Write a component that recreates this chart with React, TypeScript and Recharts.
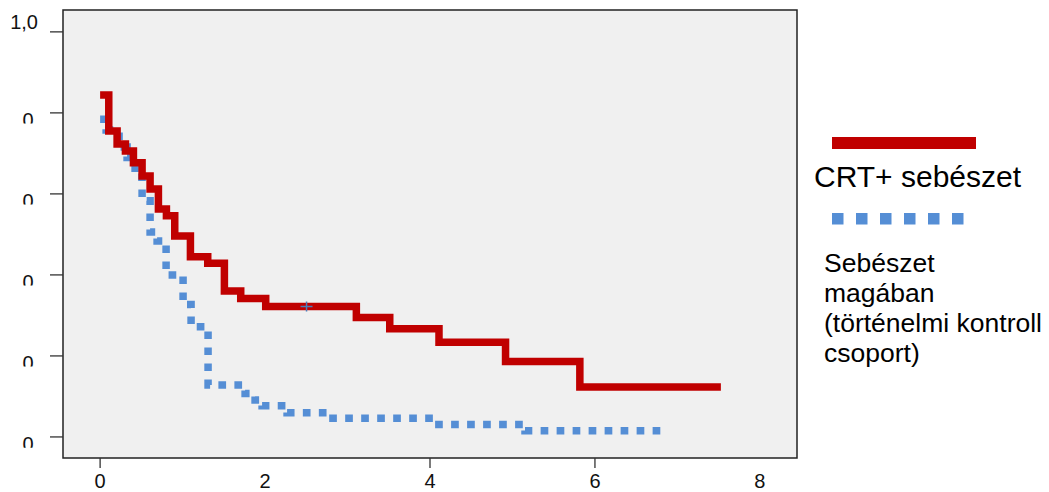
import {
  ComposedChart,
  Line,
  Scatter,
  XAxis,
  YAxis,
  ReferenceArea,
} from "recharts";

// CRT + sebészet (red, solid)
const crtTime = [0, 0.105, 0.206, 0.307, 0.404, 0.509, 0.606, 0.707, 0.804, 0.905, 1.095, 1.305, 1.507, 1.705, 2.008, 3.107, 3.512, 4.109, 4.916, 5.817, 7.527];
const crtSurv = [0.844, 0.755, 0.723, 0.706, 0.677, 0.644, 0.612, 0.563, 0.546, 0.496, 0.445, 0.429, 0.36, 0.342, 0.322, 0.295, 0.267, 0.234, 0.186, 0.123, 0.123];

// Sebészet magában (blue, dotted)
const ctrlTime = [0, 0.073, 0.23, 0.327, 0.424, 0.509, 0.606, 0.691, 0.8, 1.006, 1.103, 1.309, 1.758, 1.879, 1.964, 2.267, 2.764, 4.061, 5.152, 6.812];
const ctrlSurv = [0.784, 0.758, 0.716, 0.69, 0.641, 0.583, 0.506, 0.484, 0.4, 0.327, 0.272, 0.128, 0.107, 0.091, 0.077, 0.06, 0.046, 0.031, 0.015, 0.015];

// censored mark on the red curve
const censorTime = [2.503];
const censorSurv = [0.322];

const xTicks = [0, 2, 4, 6, 8];
const xTickMarks = [0, 4, 6];
const yTicks = [0, 0.2, 0.4, 0.6, 0.8, 1];

const seriesNames = ["CRT+ sebészet", "Sebészet magában (történelmi kontroll csoport)"];
const legendLines = ["Sebészet", "magában", "(történelmi kontroll", "csoport)"];

const RED = "#c00000";
const BLUE = "#558ed5";
const FONT = "'Liberation Sans', Arial, sans-serif";

const crtData = crtTime.map((x, i) => ({ x, y: crtSurv[i] }));
const ctrlData = ctrlTime.map((x, i) => ({ x, y: ctrlSurv[i] }));
const censorData = censorTime.map((x, i) => ({ x, y: censorSurv[i] }));

const XTick = (props: any) => {
  const { x, payload } = props;
  return (
    <g>
      {xTickMarks.includes(payload.value) && (
        <line x1={x} x2={x} y1={458} y2={468} stroke="#333" strokeWidth={1.3} />
      )}
      <text x={x} y={488} textAnchor="middle" fontSize={20} fontFamily={FONT} fill="#111">
        {payload.value}
      </text>
    </g>
  );
};

const YTick = (props: any) => {
  const { y, payload, index } = props;
  if (payload.value === 1) {
    return (
      <text x={38} y={y - 3} textAnchor="end" fontSize={20} fontFamily={FONT} fill="#111">
        1,0
      </text>
    );
  }
  // the other labels are cut off in the original, only the top of the "0" shows
  const id = `ytick-clip-${index}`;
  return (
    <g>
      <defs>
        <clipPath id={id}>
          <rect x={0} y={y} width={48} height={10.7} />
        </clipPath>
      </defs>
      <text x={28} y={y + 14.3} textAnchor="middle" fontSize={20} fontFamily={FONT} fill="#111" clipPath={`url(#${id})`}>
        0
      </text>
    </g>
  );
};

const CensorMark = (props: any) => {
  const { cx, cy } = props;
  return (
    <g stroke="#4a7ebb" strokeWidth={1.5}>
      <line x1={cx - 6} x2={cx + 6} y1={cy} y2={cy} />
      <line x1={cx} x2={cx} y1={cy - 5} y2={cy + 5} />
    </g>
  );
};

export default function App() {
  return (
    <div style={{ position: "absolute", left: 0, top: 0, width: 1049, height: 492, background: "#fff" }}>
      <ComposedChart
        width={1049}
        height={492}
        margin={{ top: 10, right: 252, bottom: 0, left: 0 }}
      >
        <XAxis
          dataKey="x"
          type="number"
          domain={[-0.45, 8.45]}
          ticks={xTicks}
          allowDataOverflow
          axisLine={false}
          tickLine={false}
          height={34}
          tick={<XTick />}
        />
        <YAxis
          dataKey="y"
          type="number"
          domain={[-0.052, 1.054]}
          ticks={yTicks}
          allowDataOverflow
          axisLine={false}
          tickLine={{ stroke: "#333", strokeWidth: 1.3 }}
          tickSize={13}
          width={63}
          tick={<YTick />}
        />
        <ReferenceArea
          x1={-0.45}
          x2={8.45}
          y1={-0.052}
          y2={1.054}
          ifOverflow="visible"
          fill="#f0f0f0"
          fillOpacity={1}
          stroke="#222"
          strokeWidth={1.5}
        />
        <Line
          data={ctrlData}
          dataKey="y"
          name={seriesNames[1]}
          type="stepAfter"
          stroke={BLUE}
          strokeWidth={7.5}
          strokeDasharray="7.7 8.3"
          strokeLinejoin="miter"
          dot={false}
          activeDot={false}
          isAnimationActive={false}
        />
        <Line
          data={crtData}
          dataKey="y"
          name={seriesNames[0]}
          type="stepAfter"
          stroke={RED}
          strokeWidth={7.5}
          strokeLinejoin="miter"
          dot={false}
          activeDot={false}
          isAnimationActive={false}
        />
        <Scatter
          data={censorData}
          dataKey="y"
          shape={<CensorMark />}
          isAnimationActive={false}
        />
      </ComposedChart>

      {/* legend, drawn to the right of the plot */}
      <svg
        width={1049}
        height={492}
        style={{ position: "absolute", left: 0, top: 0, pointerEvents: "none" }}
      >
        <rect x={832} y={137} width={144} height={12} fill={RED} />
        <text x={814} y={187} fontSize={30} fontFamily={FONT} fill="#000">
          {seriesNames[0]}
        </text>
        {[0, 1, 2, 3, 4, 5].map((i) => (
          <rect key={i} x={832 + i * 24} y={213} width={11.5} height={11.5} fill={BLUE} />
        ))}
        {legendLines.map((line, i) => (
          <text key={i} x={824} y={272 + i * 30} fontSize={26.5} fontFamily={FONT} fill="#000">
            {line}
          </text>
        ))}
      </svg>
    </div>
  );
}
